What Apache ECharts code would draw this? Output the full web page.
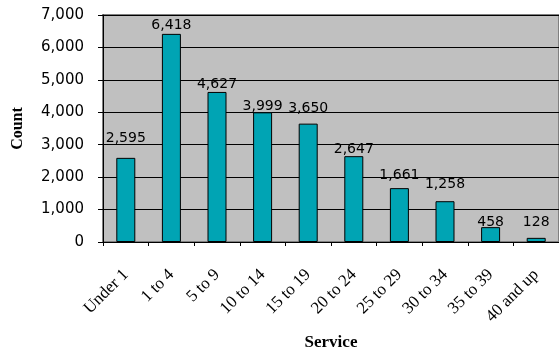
<!DOCTYPE html>
<html>
<head>
    <meta charset="utf-8">
    <title>Count by Service</title>
    <script src="https://cdn.jsdelivr.net/npm/echarts@6/dist/echarts.min.js"></script>
    <style>
        html, body { margin: 0; padding: 0; background: #fff; }
        #main { width: 559px; height: 353px; }
    </style>
</head>
<body>
<div id="main"></div>
<script>
// 数据
const categories = ['Under 1', '1 to 4', '5 to 9', '10 to 14', '15 to 19',
                    '20 to 24', '25 to 29', '30 to 34', '35 to 39', '40 and up'];
const counts = [2595, 6418, 4627, 3999, 3650, 2647, 1661, 1258, 458, 128];
const yTicks = [0, 1000, 2000, 3000, 4000, 5000, 6000, 7000];

// 标签与柱顶的间距(原图 Excel 为避让而抬高了部分标签)
const labelGap = [15, 5, 4, 2, 11, 3, 9, 13, 1, 11];

const fmt = v => v.toLocaleString('en-US');

const chart = echarts.init(document.getElementById('main'));

chart.setOption({
    animation: false,
    grid: {
        left: 103, top: 15, right: 0, bottom: 111,
        outerBoundsMode: 'none',
        show: true,
        backgroundColor: '#C0C0C0',
        borderColor: '#808080',
        borderWidth: 2
    },
    xAxis: {
        type: 'category',
        data: categories,
        name: 'Service',
        nameLocation: 'middle',
        nameGap: 92,
        nameTextStyle: { fontFamily: 'Liberation Serif', fontWeight: 'bold', fontSize: 17, color: '#000' },
        axisLine: { lineStyle: { color: '#000', width: 1 } },
        axisTick: { show: true, length: 4, lineStyle: { color: '#000' } },
        axisLabel: {
            rotate: 45,
            margin: 30,
            interval: 0,
            fontFamily: 'Liberation Serif',
            fontSize: 17,
            color: '#000'
        }
    },
    yAxis: {
        type: 'value',
        min: yTicks[0],
        max: yTicks[yTicks.length - 1],
        interval: 1000,
        name: 'Count',
        nameLocation: 'middle',
        nameGap: 77,
        nameRotate: 90,
        nameTextStyle: { fontFamily: 'Liberation Serif', fontWeight: 'bold', fontSize: 16, color: '#000' },
        axisLine: { show: true, lineStyle: { color: '#000', width: 1 } },
        axisTick: { show: true, length: 5, lineStyle: { color: '#000' } },
        axisLabel: {
            margin: 19,
            fontFamily: 'DejaVu Sans',
            fontSize: 15,
            color: '#000',
            formatter: v => fmt(v)
        },
        splitLine: { show: true, lineStyle: { color: '#000', width: 1 } }
    },
    series: [{
        type: 'bar',
        barWidth: 19,
        data: counts.map((v, i) => ({
            value: v,
            label: { distance: labelGap[i] - 3 }
        })),
        itemStyle: {
            color: '#00A4B4',
            borderColor: '#000',
            borderWidth: 1
        },
        label: {
            show: true,
            position: 'top',
            fontFamily: 'DejaVu Sans',
            fontSize: 14,
            color: '#000',
            formatter: p => fmt(p.value)
        }
    }]
});
</script>
</body>
</html>
